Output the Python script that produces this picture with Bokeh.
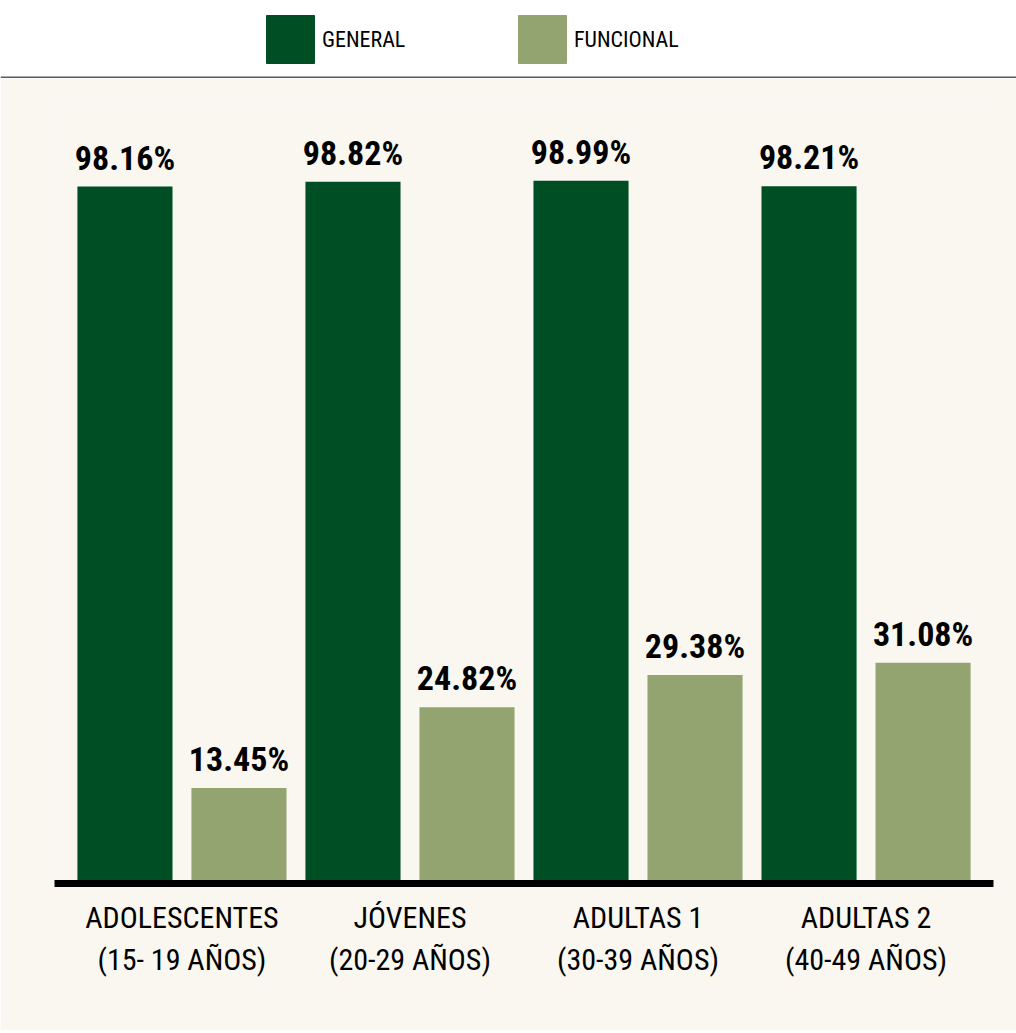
from bokeh.plotting import figure
from bokeh.models import (ColumnDataSource, Range1d, FixedTicker, Legend, LegendItem, Span)
from bokeh.layouts import column
from bokeh.transform import dodge
from bokeh.core.properties import value
from bokeh.embed import file_html
from bokeh.resources import INLINE

# ---- data ----
categories = ["ADOLESCENTES\n(15- 19 AÑOS)", "JÓVENES\n(20-29 AÑOS)",
              "ADULTAS 1\n(30-39 AÑOS)", "ADULTAS 2\n(40-49 AÑOS)"]
general = [98.16, 98.82, 98.99, 98.21]
funcional = [13.45, 24.82, 29.38, 31.08]
series_names = ["GENERAL", "FUNCIONAL"]

# ---- styles ----
DARK = "#004F24"
LIGHT = "#93A470"
BEIGE = "#F9F7F0"
FONT = "'Liberation Sans Narrow', 'Roboto Condensed', 'DejaVu Sans Condensed', Roboto, sans-serif"

xs = list(range(len(categories)))
src = ColumnDataSource(dict(
    x=xs,
    general=general,
    funcional=funcional,
    general_label=[f"{v:.2f}%" for v in general],
    funcional_label=[f"{v:.2f}%" for v in funcional],
))

# ---- top legend figure ----
top = figure(width=1016, height=78, output_backend="svg", toolbar_location=None,
             x_range=Range1d(0, 1016), y_range=Range1d(1000, 1078),
             x_axis_location=None, y_axis_location=None,
             min_border=0, min_border_left=0, min_border_right=0,
             min_border_top=0, min_border_bottom=0)
top.frame_align = False
top.xgrid.visible = False
top.ygrid.visible = False
top.outline_line_color = None
top.background_fill_color = "white"
top.border_fill_color = "white"
# renderers only used for the legend swatches (their bars lie outside this panel's range)
r_g = top.vbar(x="x", top="general", width=1, source=src, color=DARK)
r_f = top.vbar(x="x", top="funcional", width=1, source=src, color=LIGHT)
top.add_layout(Span(location=1001, dimension="width", line_color="#5a5a5a", line_width=2))

for name, rend, xloc in [(series_names[0], r_g, 260), (series_names[1], r_f, 512)]:
    lg = Legend(items=[LegendItem(label=name, renderers=[rend])],
                location=(xloc, 9), orientation="horizontal",
                glyph_width=60, glyph_height=60, label_standoff=2,
                padding=0, margin=0, spacing=0,
                border_line_color=None, background_fill_alpha=0,
                label_text_font=FONT, label_text_font_size="22px",
                label_text_color="black", label_height=60)
    top.add_layout(lg)

# ---- main figure ----
p = figure(width=1016, height=952, output_backend="svg", toolbar_location=None,
           x_range=Range1d(-0.559, 3.559), y_range=Range1d(0, 110.56),
           y_axis_location=None,
           min_border_left=54, min_border_right=23, min_border_top=20, min_border_bottom=147)
p.frame_align = False
p.xgrid.visible = False
p.ygrid.visible = False
p.outline_line_color = None
p.background_fill_color = BEIGE
p.border_fill_color = BEIGE

bw = 0.417
p.vbar(x=dodge("x", -0.25, range=p.x_range), top="general", width=bw, source=src,
       fill_color=DARK, line_color=None)
p.vbar(x=dodge("x", 0.25, range=p.x_range), top="funcional", width=bw, source=src,
       fill_color=LIGHT, line_color=None)

p.text(x=dodge("x", -0.25, range=p.x_range), y="general", text="general_label", source=src,
       text_font=value(FONT), text_font_style="bold", text_font_size="34px",
       text_align="center", text_baseline="bottom", y_offset=-9, text_color="black")
p.text(x=dodge("x", 0.25, range=p.x_range), y="funcional", text="funcional_label", source=src,
       text_font=value(FONT), text_font_style="bold", text_font_size="34px",
       text_align="center", text_baseline="bottom", y_offset=-9, text_color="black")

ax = p.xaxis[0]
ax.ticker = FixedTicker(ticks=xs)
ax.major_label_overrides = {i: c for i, c in zip(xs, categories)}
ax.axis_line_color = "black"
ax.axis_line_width = 7
ax.major_tick_line_color = None
ax.minor_tick_line_color = None
ax.major_tick_in = 0
ax.major_tick_out = 0
ax.major_label_standoff = 16
ax.major_label_text_font = FONT
ax.major_label_text_font_size = "30px"
ax.major_label_text_color = "black"

layout = column(top, p, spacing=0)
open("out.html", "w").write(file_html(layout, INLINE))
